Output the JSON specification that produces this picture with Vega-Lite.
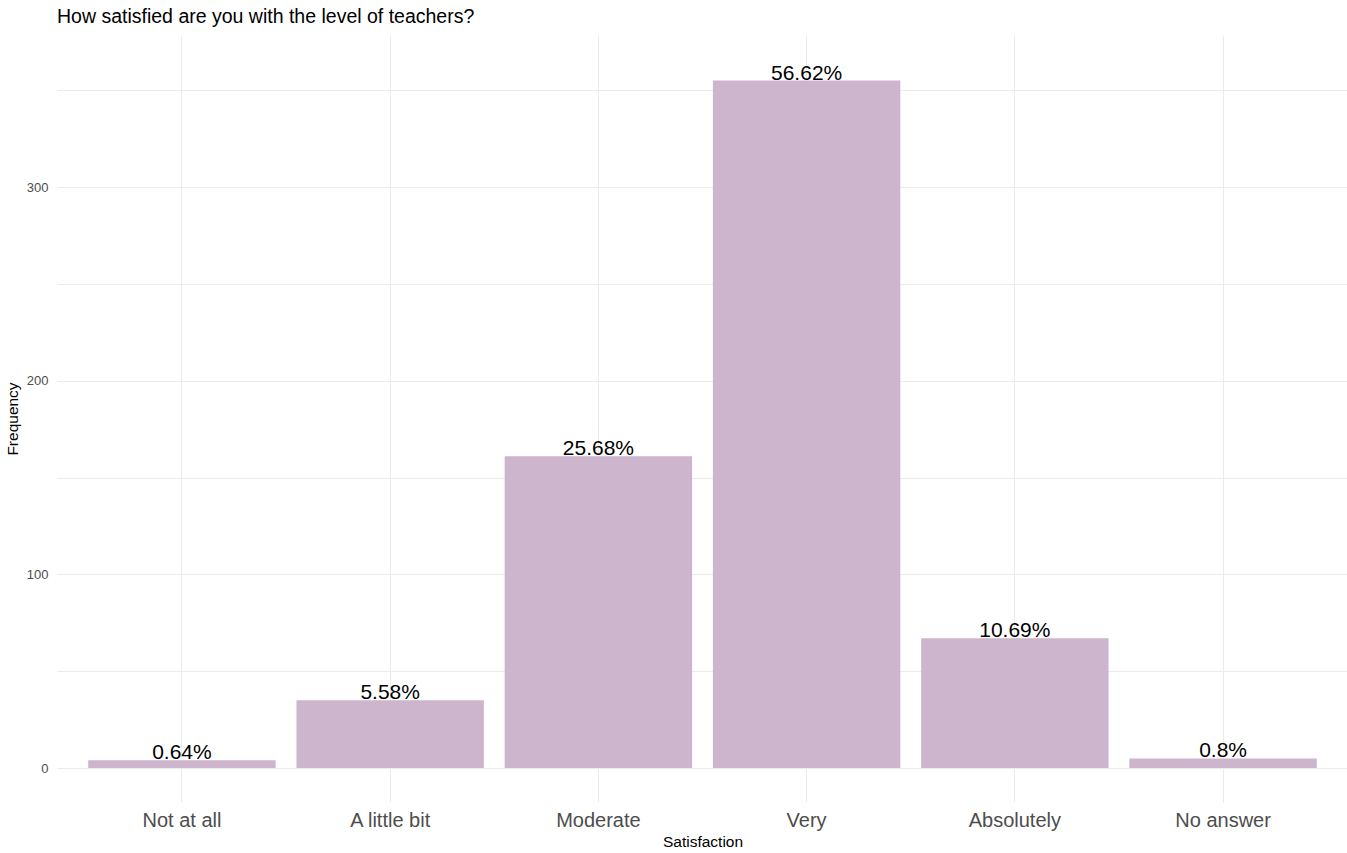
{
  "$schema": "https://vega.github.io/schema/vega-lite/v6.json",
  "autosize": {"type": "none"},
  "width": 1291,
  "height": 767,
  "padding": {"left": 57, "top": 35, "right": 0, "bottom": 51},
  "background": "white",
  "config": {
    "font": "Liberation Sans",
    "view": {"stroke": null},
    "axis": {"domain": false, "ticks": false, "gridColor": "#EBEBEB", "gridWidth": 1}
  },
  "title": {
    "text": "How satisfied are you with the level of teachers?",
    "anchor": "start",
    "frame": "group",
    "fontSize": 19.5,
    "fontWeight": "normal",
    "color": "#000000",
    "offset": 8
  },
  "data": {
    "values": [
      {"Satisfaction": "Not at all", "Frequency": 4, "label": "0.64%"},
      {"Satisfaction": "A little bit", "Frequency": 35, "label": "5.58%"},
      {"Satisfaction": "Moderate", "Frequency": 161, "label": "25.68%"},
      {"Satisfaction": "Very", "Frequency": 355, "label": "56.62%"},
      {"Satisfaction": "Absolutely", "Frequency": 67, "label": "10.69%"},
      {"Satisfaction": "No answer", "Frequency": 5, "label": "0.8%"}
    ]
  },
  "encoding": {
    "x": {
      "field": "Satisfaction",
      "type": "nominal",
      "sort": null,
      "scale": {"paddingInner": 0.1, "paddingOuter": 0.15},
      "axis": {
        "title": "Satisfaction",
        "titleFontSize": 15.5,
        "titleFontWeight": "normal",
        "titleColor": "#000000",
        "titlePadding": 4,
        "labelAngle": 0,
        "labelFontSize": 20,
        "labelColor": "#4D4D4D",
        "labelPadding": 8,
        "grid": true,
        "bandPosition": 0.5
      }
    },
    "y": {
      "field": "Frequency",
      "type": "quantitative",
      "scale": {"domain": [-17.5, 378.5], "nice": false, "zero": false},
      "axis": {
        "title": "Frequency",
        "titleFontSize": 15.5,
        "titleFontWeight": "normal",
        "titleColor": "#000000",
        "titlePadding": 6,
        "values": [0, 50, 100, 150, 200, 250, 300, 350],
        "labelExpr": "datum.value % 100 === 0 ? datum.label : ''",
        "labelFontSize": 13,
        "labelColor": "#4D4D4D",
        "labelPadding": 9
      }
    }
  },
  "layer": [
    {
      "mark": {"type": "bar", "color": "#CDB5CD"},
      "encoding": {
        "y2": {"datum": 0}
      }
    },
    {
      "mark": {"type": "text", "fontSize": 21, "color": "#000000", "baseline": "alphabetic", "dy": -1},
      "encoding": {"text": {"field": "label"}}
    }
  ]
}
